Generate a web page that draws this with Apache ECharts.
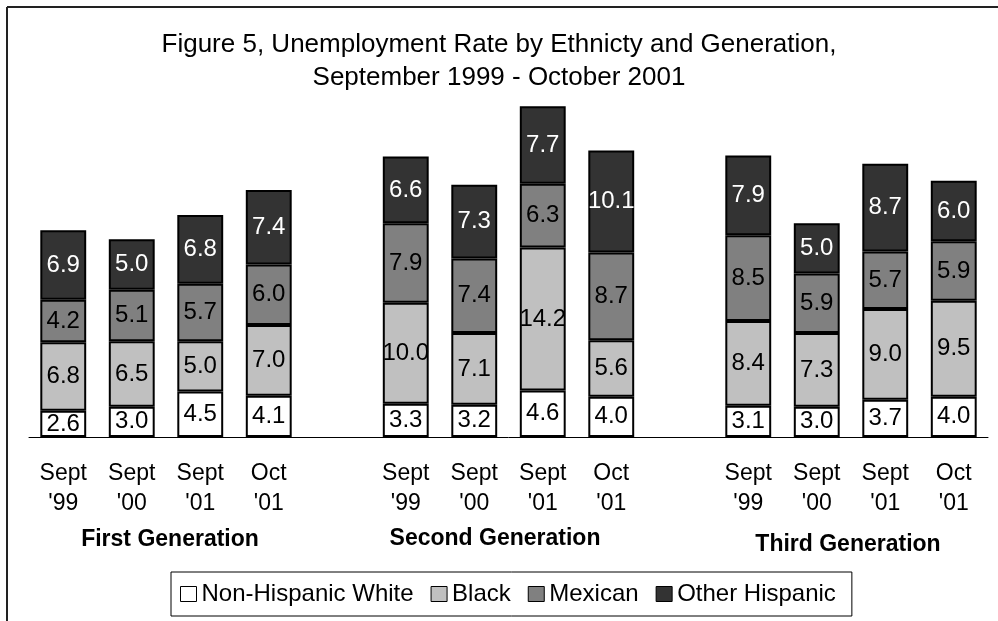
<!DOCTYPE html>
<html>
<head>
<meta charset="utf-8">
<script src="https://cdn.jsdelivr.net/npm/echarts@6/dist/echarts.min.js"></script>
<style>
  html, body { margin: 0; padding: 0; background: #fff; }
  #chart { width: 998px; height: 621px; }
</style>
</head>
<body>
<div id="chart"></div>
<script>
// Survey periods within each generation
const periods = ["Sept\n'99", "Sept\n'00", "Sept\n'01", "Oct\n'01"];
const generations = ['First Generation', 'Second Generation', 'Third Generation'];
const seriesNames = ['Non-Hispanic White', 'Black', 'Mexican', 'Other Hispanic'];

// Unemployment rates (%), four periods per generation, generations in order
const white     = [2.6, 3.0, 4.5, 4.1,   3.3, 3.2, 4.6, 4.0,   3.1, 3.0, 3.7, 4.0];
const black     = [6.8, 6.5, 5.0, 7.0,   10.0, 7.1, 14.2, 5.6, 8.4, 7.3, 9.0, 9.5];
const mexican   = [4.2, 5.1, 5.7, 6.0,   7.9, 7.4, 6.3, 8.7,   8.5, 5.9, 5.7, 5.9];
const otherHisp = [6.9, 5.0, 6.8, 7.4,   6.6, 7.3, 7.7, 10.1,  7.9, 5.0, 8.7, 6.0];

const fills = ['#FFFFFF', '#C0C0C0', '#808080', '#333333'];
const labelColors = ['#000000', '#000000', '#000000', '#FFFFFF'];
const FONT = '"Liberation Sans", Arial, sans-serif';

// Category axis: each generation's periods, with an empty slot between generations
const categories = [];
const slotIndex = [];
generations.forEach((g, gi) => {
  if (gi > 0) categories.push('');
  periods.forEach(() => { slotIndex.push(categories.length); categories.push(null); });
});
periods.forEach((p, i) => {
  generations.forEach((g, gi) => { categories[slotIndex[gi * periods.length + i]] = p; });
});

function spread(values) {
  const out = categories.map(() => '-');
  values.forEach((v, i) => { out[slotIndex[i]] = v; });
  return out;
}

const seriesData = [white, black, mexican, otherHisp];

const chart = echarts.init(document.getElementById('chart'), null, { renderer: 'canvas' });

chart.setOption({
  animation: false,
  backgroundColor: '#ffffff',
  textStyle: { fontFamily: FONT },
  title: {
    text: 'Figure 5, Unemployment Rate by Ethnicty and Generation,\nSeptember 1999 - October 2001',
    left: 'center',
    top: 23,
    textStyle: { fontFamily: FONT, fontSize: 26, fontWeight: 'normal', color: '#000', lineHeight: 33 }
  },
  grid: { left: 29, right: 10, top: 84, bottom: 184 },
  xAxis: {
    type: 'category',
    data: categories,
    axisLine: { show: true, lineStyle: { color: '#000', width: 1 } },
    axisTick: { show: false },
    axisLabel: {
      interval: 0,
      margin: 22,
      fontFamily: FONT,
      fontSize: 23,
      lineHeight: 30,
      color: '#000'
    }
  },
  yAxis: {
    type: 'value',
    min: 0,
    max: 35,
    show: false,
    splitLine: { show: false }
  },
  legend: {
    data: seriesNames,
    left: 171,
    top: 572,
    orient: 'horizontal',
    itemWidth: 16,
    itemHeight: 15,
    itemGap: 17,
    padding: [10, 16, 10, 9],
    borderColor: '#000',
    borderWidth: 1,
    icon: 'rect',
    itemStyle: { borderColor: '#000', borderWidth: 1 },
    textStyle: { fontFamily: FONT, fontSize: 24, color: '#000' }
  },
  series: seriesNames.map((name, i) => ({
    name: name,
    type: 'bar',
    stack: 'total',
    barWidth: '67%',
    data: spread(seriesData[i]),
    itemStyle: { color: fills[i], borderColor: '#000', borderWidth: 2 },
    label: {
      show: true,
      position: 'inside',
      fontFamily: FONT,
      fontSize: 24,
      color: labelColors[i],
      formatter: p => Number(p.value).toFixed(1)
    }
  })),
  graphic: [
    // frame lines along the top and left edges
    { type: 'line', shape: { x1: 7, y1: 7, x2: 998, y2: 7 }, style: { stroke: '#222', lineWidth: 2 } },
    { type: 'line', shape: { x1: 7, y1: 7, x2: 7, y2: 621 }, style: { stroke: '#222', lineWidth: 2 } },
    // generation captions under the period labels
    { type: 'text', x: 170, y: 540, style: { text: generations[0], font: 'bold 23px ' + FONT, fill: '#000', textAlign: 'center', textVerticalAlign: 'middle' } },
    { type: 'text', x: 495, y: 539, style: { text: generations[1], font: 'bold 23px ' + FONT, fill: '#000', textAlign: 'center', textVerticalAlign: 'middle' } },
    { type: 'text', x: 848, y: 545, style: { text: generations[2], font: 'bold 23px ' + FONT, fill: '#000', textAlign: 'center', textVerticalAlign: 'middle' } }
  ]
});
</script>
</body>
</html>
